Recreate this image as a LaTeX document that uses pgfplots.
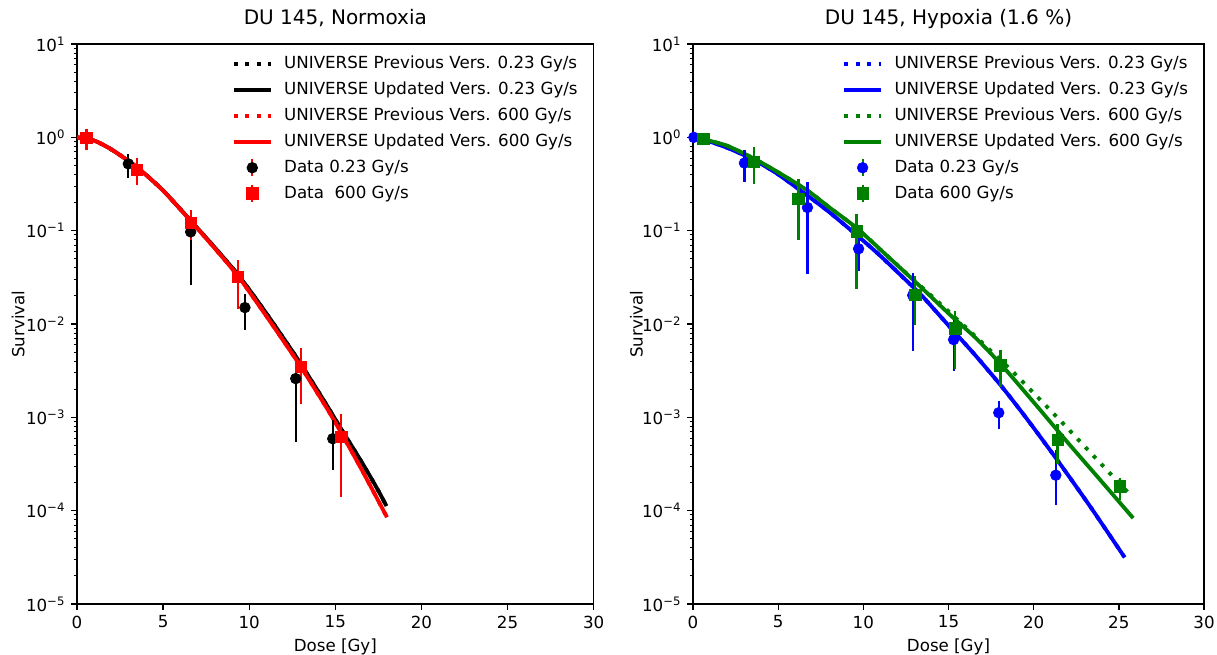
\documentclass[border=0pt]{standalone}
\usepackage{fontspec}
\setmainfont{DejaVu Sans}
\usepackage{pgfplots}
\pgfplotsset{compat=1.18}

\definecolor{mblue}{RGB}{0,0,255}
\definecolor{mgreen}{RGB}{0,128,0}
\definecolor{mred}{RGB}{255,0,0}

\pgfplotsset{
  every axis/.append style={
    scale only axis, height=336pt,
    xmin=0, xmax=30, ymin=1e-5, ymax=10,
    xtick={0,5,...,30},
    ytick={1e-5,1e-4,1e-3,1e-2,1e-1,1,10},
    yticklabels={10\textsuperscript{−5},10\textsuperscript{−4},10\textsuperscript{−3},10\textsuperscript{−2},10\textsuperscript{−1},10\textsuperscript{0},10\textsuperscript{1}},
    minor ytick={2e-5,3e-5,4e-5,5e-5,6e-5,7e-5,8e-5,9e-5,
                 2e-4,3e-4,4e-4,5e-4,6e-4,7e-4,8e-4,9e-4,
                 2e-3,3e-3,4e-3,5e-3,6e-3,7e-3,8e-3,9e-3,
                 0.02,0.03,0.04,0.05,0.06,0.07,0.08,0.09,
                 0.2,0.3,0.4,0.5,0.6,0.7,0.8,0.9,
                 2,3,4,5,6,7,8,9},
    tick align=outside, xtick pos=bottom, ytick pos=left,
    major tick length=3.5pt, minor tick length=2pt,
    tick style={black, line width=0.8pt},
    minor tick style={line width=0.6pt},
    axis line style={line width=0.8pt},
    tick label style={font=\fontsize{10}{12}\selectfont},
    label style={font=\fontsize{10}{12}\selectfont},
    title style={font=\fontsize{12}{14}\selectfont, at={(0.5,1)}, anchor=base, yshift=5.5pt},
    xlabel style={at={(axis description cs:0.5,0)}, anchor=center, yshift=-26pt},
    legend cell align=left,
    legend style={draw=none, fill=none, at={(axis description cs:1,1)}, anchor=north east,
      xshift=-7.6pt, yshift=-5.4pt, inner sep=0pt, outer sep=0pt,
      font=\fontsize{10}{12}\selectfont, row sep=2.5pt, column sep=5pt,
      nodes={inner sep=2pt}},
  },
  prev/.style={line width=2.3pt, dash pattern=on 2.3pt off 4.6pt, smooth, tension=0.4,
    legend image code/.code={\draw[##1] (0pt,0pt) -- (22pt,0pt);}},
  upd/.style={line width=2.3pt, smooth, tension=0.4,
    legend image code/.code={\draw[##1] (0pt,0pt) -- (22pt,0pt);}},
}
\newcommand{\datlegend}[1]{%
  \pgfplotsset{legend image code/.code={%
    \draw[line width=1.3pt, color=#1] (11pt,-5pt) -- (11pt,5pt);
    \draw[mark repeat=2, mark phase=2, ##1] plot coordinates {(0pt,0pt) (11pt,0pt) (22pt,0pt)};}}}

\begin{document}
\begin{tikzpicture}
% ---------------- left: normoxia ----------------
\begin{axis}[ymode=log, width=310pt, at={(0pt,0pt)},
  /pgf/number format/assume math mode=true,
  title={DU 145, Normoxia}, xlabel={Dose [Gy]}, ylabel={Survival},
  ylabel style={at={(axis description cs:-0.114,0.5)}, anchor=center}]

\addplot[prev, black] coordinates {
 (0,1.0) (1,0.923) (2,0.741) (3.47,0.481) (5,0.269) (6.57,0.130) (8,0.066)
 (9.28,0.0350) (10.35,0.0191) (11.5,0.00955) (12.97,0.0038) (14.5,0.00135)
 (15.29,7.76e-4) (16.5,3.39e-4) (17.23,2.0e-4) (17.6,1.51e-4) (17.97,1.12e-4)};
\addlegendentry{UNIVERSE Previous Vers. 0.23 Gy/s}
\addplot[upd, black] coordinates {
 (0,1.0) (1,0.923) (2,0.741) (3.47,0.481) (5,0.269) (6.57,0.130) (8,0.066)
 (9.28,0.0350) (10.35,0.0191) (11.5,0.00955) (12.97,0.0038) (14.5,0.00135)
 (15.29,7.76e-4) (16.5,3.39e-4) (17.23,2.0e-4) (17.6,1.51e-4) (17.97,1.12e-4)};
\addlegendentry{UNIVERSE Updated Vers. 0.23 Gy/s}
\addplot[prev, mred] coordinates {
 (0,1.0) (1,0.923) (2,0.741) (3.47,0.481) (5,0.269) (6.57,0.129) (8,0.0646)
 (9.28,0.0339) (10.35,0.0180) (11.5,0.00891) (12.97,0.00355) (14.5,0.00126)
 (15.29,7.08e-4) (16.5,2.82e-4) (18,8.5e-5)};
\addlegendentry{UNIVERSE Previous Vers. 600 Gy/s}
\addplot[upd, mred] coordinates {
 (0,1.0) (1,0.923) (2,0.741) (3.47,0.481) (5,0.269) (6.57,0.129) (8,0.0646)
 (9.28,0.0339) (10.35,0.0180) (11.5,0.00891) (12.97,0.00355) (14.5,0.00126)
 (15.29,7.08e-4) (16.5,2.82e-4) (18,8.5e-5)};
\addlegendentry{UNIVERSE Updated Vers. 600 Gy/s}

\datlegend{black}
\addplot[black, only marks, mark=*, mark size=3.2pt, mark options={solid, fill=black},
  error bars/y dir=both, error bars/y explicit, error bars/error mark=none,
  error bars/error bar style={line width=1.3pt}]
 table[x=x, y=y, y error plus=ep, y error minus=em] {
 x     y       ep       em
 2.98  0.52    0.14     0.15
 6.60  0.097   0.033    0.071
 9.75  0.015   0.006    0.0063
 12.70 0.0026  0.0009   0.00206
 14.85 0.00059 0.00034  0.00032
};
\addlegendentry{Data 0.23 Gy/s}
\datlegend{mred}
\addplot[mred, only marks, mark=square*, mark size=3.4pt, mark options={solid, fill=mred},
  error bars/y dir=both, error bars/y explicit, error bars/error mark=none,
  error bars/error bar style={line width=1.3pt}]
 table[x=x, y=y, y error plus=ep, y error minus=em] {
 x     y       ep       em
 0.55  0.98    0.24     0.24
 3.47  0.45    0.15     0.14
 6.60  0.122   0.043    0.042
 9.35  0.032   0.017    0.0174
 13.00 0.0035  0.002    0.0021
 15.35 0.00062 0.00046  0.00048
};
\addlegendentry{Data\ \ 600 Gy/s}
\end{axis}

% ---------------- right: hypoxia ----------------
\begin{axis}[ymode=log, width=306.6pt, at={(369.6pt,0pt)},
  /pgf/number format/assume math mode=true,
  title={DU 145, Hypoxia (1.6 \%)}, xlabel={Dose [Gy]}, ylabel={Survival},
  ylabel style={at={(axis description cs:-0.111,0.5)}, anchor=center}]

\addplot[prev, mblue] coordinates {
 (0,1.0) (1,0.897) (2,0.774) (3,0.644) (4,0.518) (5,0.401) (6.69,0.240) (8,0.158)
 (9.63,0.0891) (11,0.0537) (12.92,0.0249) (13.55,0.0191) (15.12,0.00912)
 (16.5,0.00479) (18.06,0.00221) (19.5,0.00102) (21.39,3.48e-4) (23.3,1.12e-4)
 (25.3,3.24e-5) (25.6,2.75e-5)};
\addlegendentry{UNIVERSE Previous Vers. 0.23 Gy/s}
\addplot[upd, mblue] coordinates {
 (0,1.0) (1,0.897) (2,0.774) (3,0.644) (4,0.518) (5,0.401) (6.69,0.240) (8,0.158)
 (9.63,0.0891) (11,0.0537) (12.92,0.0249) (13.55,0.0191) (15.12,0.00912)
 (16.5,0.00479) (18.06,0.00221) (19.5,0.00102) (21.39,3.48e-4) (23.3,1.12e-4)
 (25.3,3.24e-5)};
\addlegendentry{UNIVERSE Updated Vers. 0.23 Gy/s}
\addplot[prev, mgreen] coordinates {
 (0,1.0) (0.6,0.955) (2,0.813) (3.6,0.589) (5,0.422) (6.7,0.271) (8,0.178)
 (9.63,0.106) (11.4,0.0537) (13.16,0.0275) (14.92,0.0141)
 (16.5,0.00759) (18.65,0.00324) (20,0.00182) (21.59,9.12e-4) (23.5,3.89e-4)
 (25.51,1.585e-4)};
\addlegendentry{UNIVERSE Previous Vers. 600 Gy/s}
\addplot[upd, mgreen] coordinates {
 (0,1.0) (0.6,0.955) (2,0.813) (3.6,0.589) (5,0.422) (6.7,0.271) (8,0.178)
 (9.63,0.106) (11.4,0.0537) (13.16,0.0271) (15.12,0.0124) (16.6,0.00708)
 (18.12,0.00363) (20,0.00145) (22,5.37e-4) (24,2.04e-4) (25.84,8.32e-5)};
\addlegendentry{UNIVERSE Updated Vers. 600 Gy/s}

\datlegend{mblue}
\addplot[mblue, only marks, mark=*, mark size=3.2pt, mark options={solid, fill=mblue},
  error bars/y dir=both, error bars/y explicit, error bars/error mark=none,
  error bars/error bar style={line width=1.3pt}]
 table[x=x, y=y, y error plus=ep, y error minus=em] {
 x     y        ep        em
 0.05  1.0      0         0
 3.02  0.53     0.21      0.20
 6.72  0.177    0.153     0.143
 9.72  0.064    0.030     0.027
 12.90 0.0203   0.0147    0.0151
 15.30 0.0068   0.0042    0.0037
 17.95 0.00112  0.00038   0.00037
 21.30 0.00024  0.00021   0.000125
};
\addlegendentry{Data 0.23 Gy/s}
\datlegend{mgreen}
\addplot[mgreen, only marks, mark=square*, mark size=3.4pt, mark options={solid, fill=mgreen},
  error bars/y dir=both, error bars/y explicit, error bars/error mark=none,
  error bars/error bar style={line width=1.3pt}]
 table[x=x, y=y, y error plus=ep, y error minus=em] {
 x     y         ep         em
 0.60  0.97      0          0
 3.59  0.55      0.23       0.23
 6.19  0.218     0.137      0.138
 9.60  0.098     0.052      0.074
 13.05 0.0205    0.0125     0.0107
 15.40 0.0090    0.0049     0.0057
 18.05 0.0036    0.0017     0.0015
 21.40 0.00057   0.00028    0.00025
 25.05 0.000182  0.000043   0.000052
};
\addlegendentry{Data 600 Gy/s}
\end{axis}

\pgfresetboundingbox
\useasboundingbox (-46.2pt,-30.6pt) rectangle (684pt,362.4pt);
\end{tikzpicture}
\end{document}
